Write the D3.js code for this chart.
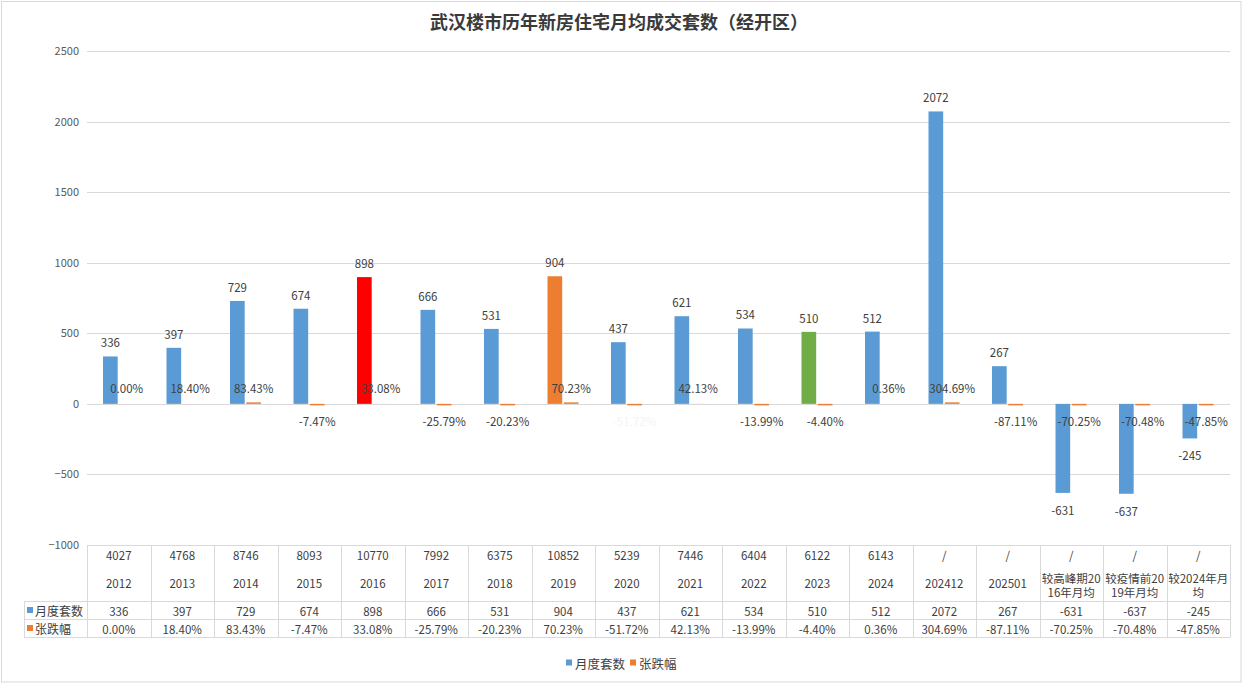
<!DOCTYPE html>
<html>
<head>
<meta charset="utf-8">
<script src="https://cdn.jsdelivr.net/npm/d3@7"></script>
<style>
  html, body { margin: 0; padding: 0; background: #fff; }
  svg { display: block; }
  text { font-family: "Noto Sans CJK SC", "Noto Sans", sans-serif; }
</style>
</head>
<body>
<svg id="chart" width="1244" height="684"></svg>
<script>
// ---------- data ----------
const title = "武汉楼市历年新房住宅月均成交套数（经开区）";
const categories = ["2012","2013","2014","2015","2016","2017","2018","2019","2020","2021","2022","2023","2024","202412","202501","较高峰期2016年月均","较疫情前2019年月均","较2024年月均"];
const yearTotals = ["4027","4768","8746","8093","10770","7992","6375","10852","5239","7446","6404","6122","6143","/","/","/","/","/"];
const monthlyUnits = [336,397,729,674,898,666,531,904,437,621,534,510,512,2072,267,-631,-637,-245];
const changePct = [0.00,18.40,83.43,-7.47,33.08,-25.79,-20.23,70.23,-51.72,42.13,-13.99,-4.40,0.36,304.69,-87.11,-70.25,-70.48,-47.85];
const seriesNames = ["月度套数","张跌幅"];
const yTicks = [-1000,-500,0,500,1000,1500,2000,2500];

// ---------- styles ----------
const seriesColors = ["#5B9BD5","#ED7D31"];
const highlightColors = {"2016":"#FF0000","2019":"#ED7D31","2023":"#70AD47"};
const fadedLabels = {"2020": true};
const textColor = "#404040";
const gridColor = "#D9D9D9";

const svg = d3.select("#chart");
const plot = {left: 87, right: 1230, top: 51, bottom: 545};

// outer frame
svg.append("rect").attr("x",1.5).attr("y",1.5).attr("width",1239.5).attr("height",680.5)
  .attr("fill","#fff").attr("stroke","#D9D9D9").attr("stroke-width",1);

// title
svg.append("text").attr("x",619).attr("y",21).attr("text-anchor","middle")
  .attr("dominant-baseline","central").attr("font-size",18).attr("font-weight","bold")
  .attr("fill","#3A3A3A").text(title);

const x0 = d3.scaleBand().domain(categories).range([plot.left, plot.right]).padding(0);
const bw = x0.bandwidth();
const x1 = d3.scaleBand().domain(seriesNames).range([bw*0.252, bw*0.74]).paddingInner(0.1);
const y = d3.scaleLinear().domain([-1000,2500]).range([plot.bottom, plot.top]);

// gridlines
svg.append("g").selectAll("line").data(yTicks).join("line")
  .attr("x1",plot.left).attr("x2",plot.right)
  .attr("y1",d=>Math.round(y(d))+0.5).attr("y2",d=>Math.round(y(d))+0.5)
  .attr("stroke",gridColor).attr("stroke-width",1);

// y axis labels via d3 axis
const yAxis = d3.axisLeft(y).tickValues(yTicks).tickSize(0).tickPadding(8).tickFormat(d3.format("d"));
const ya = svg.append("g").attr("transform",`translate(${plot.left},0)`).call(yAxis);
ya.select(".domain").remove();
ya.selectAll("text").attr("font-size",11).attr("fill","#595959")
  .attr("font-family","'Noto Sans CJK SC', sans-serif");

// blue bars
const g = svg.append("g");
g.selectAll("rect.m").data(categories).join("rect").attr("class","m")
  .attr("x",(c)=>x0(c)+x1("月度套数"))
  .attr("width",x1.bandwidth())
  .attr("y",(c,i)=>Math.min(y(monthlyUnits[i]),y(0)))
  .attr("height",(c,i)=>Math.abs(y(monthlyUnits[i])-y(0)))
  .attr("fill",(c)=>highlightColors[c]||seriesColors[0]);

// orange bars (change ratio, plotted on the same axis as a fraction)
function changeH(v){ const h=Math.abs(y(v)-y(0)); return (v<0 || v>=0.6) ? Math.max(h,1.5) : h; }
g.selectAll("rect.c").data(categories).join("rect").attr("class","c")
  .attr("x",(c)=>x0(c)+x1("张跌幅"))
  .attr("width",x1.bandwidth())
  .attr("y",(c,i)=>{const v=changePct[i]/100; return v>=0? y(0)-changeH(v) : y(0);})
  .attr("height",(c,i)=>changeH(changePct[i]/100))
  .attr("fill",seriesColors[1]);

// value labels (blue)
g.selectAll("text.ml").data(categories).join("text").attr("class","ml")
  .attr("x",(c)=>x0(c)+x1("月度套数")+x1.bandwidth()/2)
  .attr("y",(c,i)=>monthlyUnits[i]>=0 ? y(monthlyUnits[i])-14 : y(monthlyUnits[i])+17)
  .attr("text-anchor","middle").attr("dominant-baseline","central")
  .attr("font-size",11.5).attr("fill",textColor)
  .text((c,i)=>monthlyUnits[i]);

// change labels
g.selectAll("text.cl").data(categories).join("text").attr("class","cl")
  .attr("x",(c)=>x0(c)+x1("张跌幅")+x1.bandwidth()/2)
  .attr("y",(c,i)=>changePct[i]>=0 ? y(0)-16 : y(0)+17)
  .attr("text-anchor","middle").attr("dominant-baseline","central")
  .attr("font-size",11.5).attr("fill",(c)=>fadedLabels[c]?"#F4F4F4":textColor)
  .text((c,i)=>changePct[i].toFixed(2)+"%");

// ---------- data table ----------
const tTop = plot.bottom, hdrBottom = 601, r1Bottom = 619, r2Bottom = 637;
const legLeft = 24;
const tg = svg.append("g");
const lineC = "#D9D9D9";
function hline(a,b,yy){ tg.append("line").attr("x1",a).attr("x2",b).attr("y1",yy+0.5).attr("y2",yy+0.5).attr("stroke",lineC); }
function vline(xx,a,b){ tg.append("line").attr("x1",xx+0.5).attr("x2",xx+0.5).attr("y1",a).attr("y2",b).attr("stroke",lineC); }
hline(plot.left, plot.right, tTop);
hline(legLeft, plot.right, hdrBottom);
hline(legLeft, plot.right, r1Bottom);
hline(legLeft, plot.right, r2Bottom);
categories.forEach(c=>vline(Math.round(x0(c)), tTop, r2Bottom+0.5));
vline(Math.round(plot.right), tTop, r2Bottom+0.5);
vline(legLeft, hdrBottom, r2Bottom+0.5);

// header: totals
tg.selectAll("text.tot").data(categories).join("text").attr("class","tot")
  .attr("x",c=>x0(c)+bw/2).attr("y",555)
  .attr("text-anchor","middle").attr("dominant-baseline","central")
  .attr("font-size",11.5).attr("fill",textColor)
  .text((c,i)=>yearTotals[i]);

// header: category names, wrapped to column width
const wrapFont = 11.5;
const measure = svg.append("text").attr("font-size",wrapFont).attr("visibility","hidden");
function wrap(str, maxW){
  const lines=[]; let cur="";
  for (const ch of str){
    measure.text(cur+ch);
    if (measure.node().getComputedTextLength() > maxW && cur){ lines.push(cur); cur=ch; }
    else cur+=ch;
  }
  if (cur) lines.push(cur);
  return lines;
}
categories.forEach(c=>{
  const lines = wrap(c, bw-1);
  const lh = 14.5, cy = lines.length>1 ? 585 : 583;
  lines.forEach((ln,k)=>{
    tg.append("text").attr("x",x0(c)+bw/2).attr("y",cy+(k-(lines.length-1)/2)*lh)
      .attr("text-anchor","middle").attr("dominant-baseline","central")
      .attr("font-size",wrapFont).attr("fill",textColor).text(ln);
  });
});
measure.remove();

// rows
const rows = [
  {name: seriesNames[0], color: seriesColors[0], vals: monthlyUnits.map(String), cy:(hdrBottom+r1Bottom)/2+0.5},
  {name: seriesNames[1], color: seriesColors[1], vals: changePct.map(v=>v.toFixed(2)+"%"), cy:(r1Bottom+r2Bottom)/2+0.5}
];
rows.forEach(r=>{
  tg.append("rect").attr("x",27).attr("y",r.cy-3.5).attr("width",6).attr("height",6).attr("fill",r.color);
  tg.append("text").attr("x",35).attr("y",r.cy).attr("dominant-baseline","central")
    .attr("font-size",12).attr("fill",textColor).text(r.name);
  categories.forEach((c,i)=>{
    tg.append("text").attr("x",x0(c)+bw/2).attr("y",r.cy)
      .attr("text-anchor","middle").attr("dominant-baseline","central")
      .attr("font-size",11.5).attr("fill",textColor).text(r.vals[i]);
  });
});

// ---------- legend ----------
const lg = svg.append("g");
const legY = 663;
let lx = 566;
seriesNames.forEach((n,i)=>{
  lg.append("rect").attr("x",lx).attr("y",legY-3.5).attr("width",6).attr("height",6).attr("fill",seriesColors[i]);
  const t = lg.append("text").attr("x",lx+9).attr("y",legY).attr("dominant-baseline","central")
    .attr("font-size",12.5).attr("fill",textColor).text(n);
  lx += 9 + t.node().getComputedTextLength() + 5;
});
</script>
</body>
</html>
